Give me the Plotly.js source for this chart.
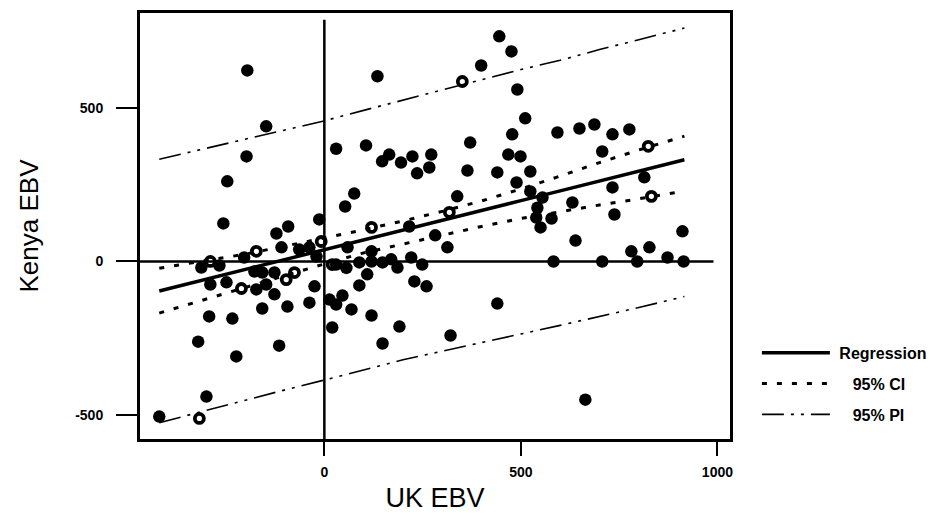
<!DOCTYPE html>
<html><head><meta charset="utf-8">
<script src="https://cdn.plot.ly/plotly-3.0.1.min.js"></script>
<style>html,body{margin:0;padding:0;background:#fff}</style>
</head><body><div id="chart" style="width:944px;height:513px"></div>
<script>
// Filled points (UK EBV, Kenya EBV)
const ukFilled = [445,476,399,135,491,511,478,371,30,106,165,147,195,224,272,267,236,364,468,499,524,440,489,524,76,53,338,
  -196,-148,-198,-247,-257,-13,
  593,649,687,733,776,707,814,733,555,631,738,
  539,578,550,542,639,911,781,827,873,583,707,796,914,664,
  216,282,313,59,120,30,56,89,120,148,170,186,109,221,249,89,229,260,46,30,69,120,20,191,148,321,440,
  -92,-122,-109,-64,-38,-20,-204,-267,-313,-178,-158,-127,-290,-249,-173,-148,-127,-25,-38,-158,-94,-293,-234,13,-321,-115,-224,-300,-420];
const kenyaFilled = [733,684,638,603,560,466,414,387,367,378,348,326,322,342,348,306,287,296,348,342,293,290,257,228,221,179,212,
  622,440,342,261,124,137,
  420,433,446,414,430,358,274,241,208,192,153,
  143,140,111,175,68,98,33,46,13,0,0,0,0,-450,
  114,85,46,46,33,-10,-21,-3,0,-3,7,-20,-42,13,-10,-78,-65,-81,-111,-140,-156,-176,-215,-212,-267,-241,-137,
  114,91,46,39,46,16,13,-13,-20,-33,-36,-36,-75,-68,-91,-75,-107,-81,-134,-153,-147,-179,-186,-124,-261,-274,-309,-440,-505];
// Open points
const ukOpen = [351,318,120,824,832,-8,-173,-290,-76,20,-211,-97,-318];
const kenyaOpen = [586,160,111,375,212,65,33,0,-36,-10,-88,-59,-511];

// Fitted lines
const lineX = [-420,-300,-200,-100,0,100,200,300,400,500,600,700,800,916];
const regression = [-96,-58,-26,6,38,70,102,134,166,198,230,262,294,331];
const ciUpper = [-22,2,24,50,76,103,132,163,197,236,278,322,363,408];
const ciLower = [-168,-122,-84,-46,-8,28,57,87,114,140,163,184,204,229];
const piUpper = [333,368,398,428,458,492,525,558,592,625,655,690,722,760];
const piLower = [-525,-485,-450,-418,-386,-352,-320,-292,-263,-236,-208,-180,-150,-114];

const xTicks = [0,500,1000];
const yTicks = [-500,0,500];
const names = ['\u00a0Regression','\u00a0\u00a0\u00a0\u00a095% CI','\u00a0\u00a0\u00a0\u00a095% PI'];

const xRange = [-469,1032];
const yRange = [-578,809];

const traces = [
  {x: ukFilled, y: kenyaFilled, type:'scatter', mode:'markers', showlegend:false,
   marker:{color:'#000', size:12.5, line:{width:0}}, hoverinfo:'skip'},
  {x: ukOpen, y: kenyaOpen, type:'scatter', mode:'markers', showlegend:false,
   marker:{symbol:'circle-open', color:'#000', size:9, line:{width:3.8, color:'#000'}}, hoverinfo:'skip'},
  {x: lineX, y: regression, type:'scatter', mode:'lines', name:names[0], legendgroup:'a',
   line:{color:'#000', width:3.5}},
  {x: lineX, y: ciUpper, type:'scatter', mode:'lines', name:names[1], legendgroup:'b',
   line:{color:'#000', width:3, dash:'5px,10px'}},
  {x: lineX, y: ciLower, type:'scatter', mode:'lines', name:names[1], legendgroup:'b', showlegend:false,
   line:{color:'#000', width:3, dash:'5px,10px'}},
  {x: lineX, y: piUpper, type:'scatter', mode:'lines', name:names[2], legendgroup:'c',
   line:{color:'#000', width:1.6, dash:'22px,7px,3px,7px,3px,7px'}},
  {x: lineX, y: piLower, type:'scatter', mode:'lines', name:names[2], legendgroup:'c', showlegend:false,
   line:{color:'#000', width:1.6, dash:'22px,7px,3px,7px,3px,7px'}}
];

const tickFont = {family:'"Liberation Sans Narrow","Liberation Sans",Arial,sans-serif', size:14, color:'#000', weight:'bold'};

const layout = {
  width:944, height:513,
  margin:{l:140, r:212, t:13, b:74},
  paper_bgcolor:'#fff', plot_bgcolor:'#fff',
  font:{family:'"Liberation Sans",Arial,sans-serif', color:'#000'},
  showlegend:true,
  legend:{x:1.0456, y:0.242, xanchor:'left', yanchor:'top', traceorder:'grouped', tracegroupgap:7,
    itemwidth:68, font:{family:'"Liberation Sans",Arial,sans-serif', size:16, color:'#000', weight:'bold'},
    bgcolor:'rgba(0,0,0,0)'},
  xaxis:{range:xRange, tickvals:xTicks, ticktext:xTicks.map(String), ticks:'outside', ticklen:14, tickwidth:2,
    tickcolor:'#000', showgrid:false, zeroline:false, showline:true, mirror:true, linewidth:3, linecolor:'#000',
    tickfont:tickFont, ticklabelstandoff:4,
    title:{text:'UK EBV', font:{size:27, family:'"Liberation Sans",Arial,sans-serif', color:'#000'}, standoff:26}},
  yaxis:{range:yRange, tickvals:yTicks, ticktext:yTicks.map(String), ticks:'outside', ticklen:21, tickwidth:2,
    tickcolor:'#000', showgrid:false, zeroline:false, showline:true, mirror:true, linewidth:3, linecolor:'#000',
    tickfont:tickFont, ticklabelstandoff:10,
    title:{text:'Kenya EBV', font:{size:26, family:'"Liberation Sans",Arial,sans-serif', color:'#000'}, standoff:30}},
  shapes:[
    {type:'line', xref:'x', yref:'y', x0:xRange[0], x1:990, y0:0, y1:0, line:{color:'#000', width:2.5}, layer:'below'},
    {type:'line', xref:'x', yref:'y', x0:0, x1:0, y0:yRange[0], y1:787, line:{color:'#000', width:2.5}, layer:'below'}
  ]
};

Plotly.newPlot('chart', traces, layout, {displayModeBar:false, staticPlot:true});
</script></body></html>
